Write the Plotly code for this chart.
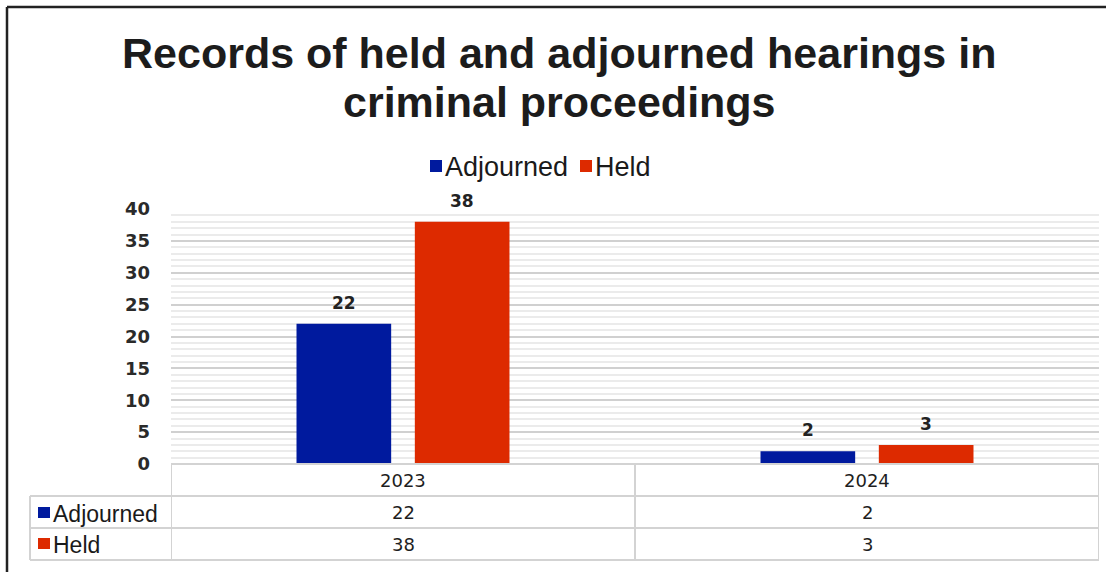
import plotly.graph_objects as go

# ---- data ----
categories = ["2023", "2024"]
series_names = ["Adjourned", "Held"]
adjourned = [22, 2]
held = [38, 3]
colors = ["#001A9E", "#DD2A00"]
y_ticks = [0, 5, 10, 15, 20, 25, 30, 35, 40]
title_lines = ["Records of held and adjourned hearings in", "criminal proceedings"]

W, H = 1106, 572
L, R, T, B = 171, 7, 209, 108
PW, PH = W - L - R, H - T - B

def px(x):
    return (x - L) / PW

def py(y):
    return (H - B - y) / PH

values = [adjourned, held]
fig = go.Figure()
for name, vals, col in zip(series_names, values, colors):
    fig.add_trace(go.Bar(x=categories, y=vals, name=name, marker=dict(color=col, line=dict(width=0)),
                         showlegend=False))

shapes = []
annotations = []
grid_col = "#d3d3d3"
# table lines
shapes.append(dict(type="line", xref="paper", yref="paper", x0=0, x1=1, y0=0, y1=0, line=dict(color=grid_col, width=2)))
for yy in [496, 528, 560]:
    shapes.append(dict(type="line", xref="paper", yref="paper", x0=px(30), x1=1, y0=py(yy), y1=py(yy), line=dict(color=grid_col, width=2)))
shapes.append(dict(type="line", xref="paper", yref="paper", x0=px(30), x1=px(30), y0=py(496), y1=py(560), line=dict(color=grid_col, width=2)))
for xx in [-0.5, 0.5, 1.5]:
    shapes.append(dict(type="line", xref="x", yref="paper", x0=xx, x1=xx, y0=0, y1=py(560), line=dict(color=grid_col, width=2)))

# frame
shapes.append(dict(type="line", xref="paper", yref="paper", x0=px(7), x1=px(1110), y0=py(7), y1=py(7), line=dict(color="#222222", width=2.5)))
shapes.append(dict(type="line", xref="paper", yref="paper", x0=px(7), x1=px(7), y0=py(7), y1=py(575), line=dict(color="#222222", width=2.5)))

num_font = dict(family="DejaVu Sans", size=17, color="#222222")
tab_font = dict(family="DejaVu Sans", size=18, color="#1e1e1e")
lab_font = dict(family="Liberation Sans, Arial", size=27, color="#1a1a1a")
row_font = dict(family="Liberation Sans, Arial", size=23, color="#1a1a1a")

# title lines
for txt, yy in zip(title_lines, [53, 102]):
    annotations.append(dict(x=px(559), y=py(yy), xref="paper", yref="paper", text=f"<b>{txt}</b>",
                            showarrow=False, xanchor="center", yanchor="middle",
                            font=dict(family="Liberation Sans, Arial", size=43, color="#1c1c1c")))

# data labels
for vals, shift in zip(values, [-59, 59]):
    for i, v in enumerate(vals):
        annotations.append(dict(x=i, y=v, xref="x", yref="y", text=f"<b>{v}</b>", showarrow=False,
                                xshift=shift, yshift=21, yanchor="middle", font=num_font))

# table category row
for i, c in enumerate(categories):
    annotations.append(dict(x=i, y=py(480), xref="x", yref="paper", text=c, showarrow=False,
                            yanchor="middle", font=tab_font))
# table value rows
for vals, yy in zip(values, [512, 544]):
    for i, v in enumerate(vals):
        annotations.append(dict(x=i, y=py(yy), xref="x", yref="paper", text=str(v), showarrow=False,
                                yanchor="middle", font=tab_font))
# row headers
for name, col, yy in zip(series_names, colors, [514, 545]):
    shapes.append(dict(type="rect", xref="paper", yref="paper", x0=px(38), x1=px(50), y0=py(yy - 7), y1=py(yy + 4),
                       fillcolor=col, line=dict(width=0)))
    annotations.append(dict(x=px(51), y=py(yy), xref="paper", yref="paper", text=name, showarrow=False,
                            xanchor="left", yanchor="middle", font=row_font))

# legend
for name, col, x0 in zip(series_names, colors, [430, 580]):
    shapes.append(dict(type="rect", xref="paper", yref="paper", x0=px(x0), x1=px(x0 + 12), y0=py(160), y1=py(172),
                       fillcolor=col, line=dict(width=0)))
    annotations.append(dict(x=px(x0 + 13), y=py(167), xref="paper", yref="paper", text=name, showarrow=False,
                            xanchor="left", yanchor="middle", font=lab_font))

fig.update_layout(
    width=W, height=H,
    margin=dict(l=L, r=R, t=T, b=B),
    paper_bgcolor="white", plot_bgcolor="white",
    barmode="group", bargap=0.49, bargroupgap=0.2,
    xaxis=dict(type="category", range=[-0.5, 1.5], showticklabels=False, showgrid=False, zeroline=False, showline=False),
    yaxis=dict(range=[0, 40], tickvals=y_ticks, showgrid=True, gridcolor="#d0d0d0", gridwidth=2,
               zeroline=False, showline=False, ticks="", ticklabelstandoff=20,
               tickfont=dict(family="DejaVu Sans", size=18, color="#2a2a2a", weight="bold"),
               minor=dict(dtick=1, showgrid=True, gridcolor="#ebebeb", gridwidth=1.5)),
    shapes=shapes, annotations=annotations,
)

fig.write_html("out.html")
